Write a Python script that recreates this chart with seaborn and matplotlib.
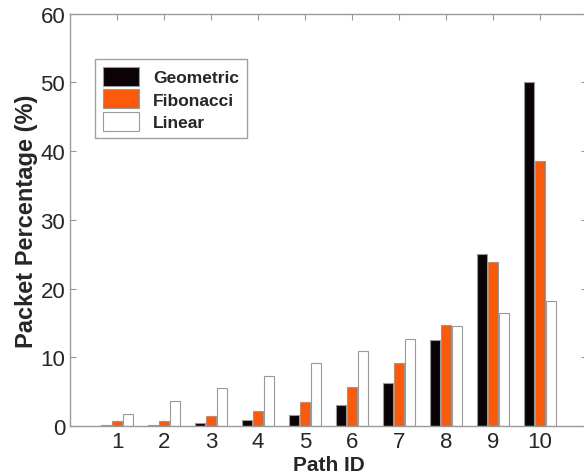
import pandas as pd
import matplotlib
matplotlib.use("Agg")
import matplotlib.pyplot as plt
import seaborn as sns

paths = ["1", "2", "3", "4", "5", "6", "7", "8", "9", "10"]
geometric = [0.1, 0.2, 0.4, 0.8, 1.6, 3.1, 6.3, 12.5, 25.0, 50.0]
fibonacci = [0.7, 0.7, 1.4, 2.1, 3.5, 5.6, 9.1, 14.7, 23.8, 38.5]
linear = [1.8, 3.6, 5.5, 7.3, 9.1, 10.9, 12.7, 14.5, 16.4, 18.2]
schemes = ["Geometric", "Fibonacci", "Linear"]
colors = ["#0a0204", "#fa5a0a", "#ffffff"]

df = pd.DataFrame({
    "path": paths * 3,
    "scheme": [s for s in schemes for _ in paths],
    "pct": geometric + fibonacci + linear,
})

sns.set_style("white")
plt.rcParams["font.family"] = ["Liberation Sans", "DejaVu Sans"]

fig = plt.figure(figsize=(5.84, 4.77), dpi=100)
ax = fig.add_axes([0.12, 0.105, 0.885, 0.864])

sns.barplot(data=df, x="path", y="pct", hue="scheme", order=paths,
            hue_order=schemes, palette=colors, saturation=1, width=0.7,
            gap=0.12, edgecolor="#999999", linewidth=0.8, ax=ax)

ax.set_xlim(-1, 10)
ax.set_ylim(0, 60)
ax.set_yticks([0, 10, 20, 30, 40, 50, 60])
ax.tick_params(axis="both", labelsize=16, direction="in", length=4,
               color="#999999", top=True, right=True, bottom=True, left=True)
for s in ax.spines.values():
    s.set_color("#999999")
    s.set_linewidth(1.0)

ax.set_xlabel("Path ID", fontsize=15, fontweight="bold", labelpad=2)
ax.set_ylabel("Packet Percentage (%)", fontsize=17, fontweight="bold", labelpad=2)

leg = ax.legend(loc="upper left", bbox_to_anchor=(0.048, 0.89), borderaxespad=0,
                fontsize=12.5, frameon=True, fancybox=False, edgecolor="#888888",
                handlelength=2.1, handleheight=1.3, labelspacing=0.2,
                borderpad=0.45, handletextpad=0.8)
for t in leg.get_texts():
    t.set_fontweight("bold")
leg.get_frame().set_linewidth(1.0)

fig.savefig("out.png", dpi=100)
